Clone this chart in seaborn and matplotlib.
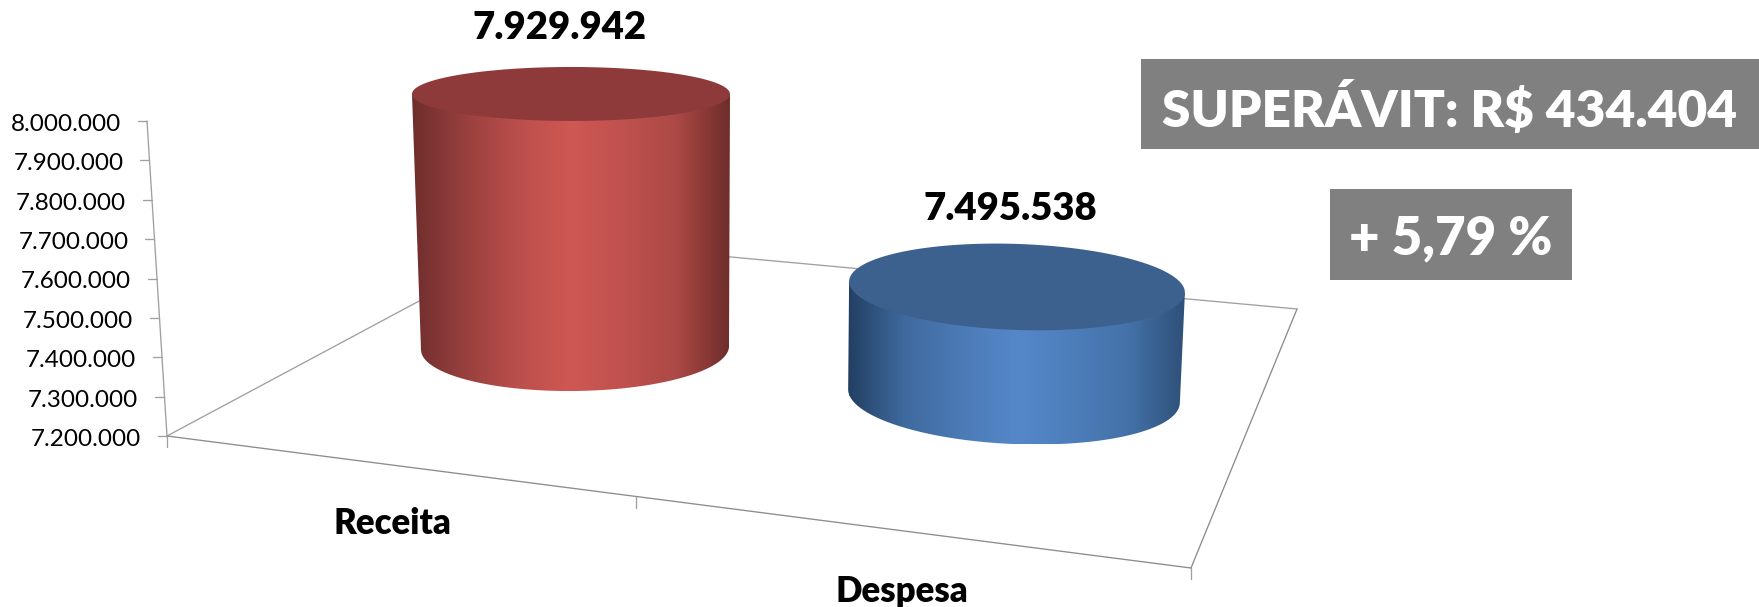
import matplotlib
matplotlib.use("Agg")
import matplotlib.pyplot as plt
import seaborn as sns
import numpy as np
from matplotlib.colors import LinearSegmentedColormap
from matplotlib.patches import Polygon, Rectangle

W, H = 1759, 607

categorias = ["Receita", "Despesa"]
valores = [7929942, 7495538]
cores_barra = ["#C0504D", "#4F81BD"]

eixo_valores = [8000000, 7900000, 7800000, 7700000, 7600000, 7500000, 7400000, 7300000, 7200000]
eixo_textos = ["8.000.000", "7.900.000", "7.800.000", "7.700.000", "7.600.000",
               "7.500.000", "7.400.000", "7.300.000", "7.200.000"]
texto_superavit = "SUPERÁVIT: R$ 434.404"
texto_percentual = "+ 5,79 %"

Y_MIN, Y_MAX = 7200000, 8000000

# layout in image pixels (y down)
EIXO_TOPO = (147, 121)
EIXO_BASE = (167, 436)
CANTO_FUNDO = (535, 239)
CANTO_DIR = (1297, 309)
CANTO_FRENTE = (1191, 568)
TICK_MEIO = (636, 497)

# per bar: base centre x, y, radii, tilt / top centre x, radii, tilt / px per real
BASES = [(575, 348, 154, 43, -0.7), (1014, 396, 166, 48, 2.5)]
TOPOS = [(571, 159, 27, 0.0), (1017, 168, 43, 2.0)]
ESCALAS = [348 / 1e6, 369 / 1e6]
CORES_TOPO = ["#8E3A3A", "#3D618F"]
GRADIENTES = [
    ["#6E2E2D", "#98403E", "#BB4F4C", "#CF5853", "#BF514E", "#AC4946", "#6E2D2B"],
    ["#233F63", "#3F6A9E", "#4B7AB5", "#5588CA", "#4D7EBB", "#4472A8", "#2F5079"],
]
CINZA = "#A0A0A0"

sns.set_theme(style="white")
plt.rcParams["font.family"] = ["Lato", "DejaVu Sans"]

fig = plt.figure(figsize=(W / 100, H / 100), dpi=100)
fig.patch.set_facecolor("white")

bg = fig.add_axes([0, 0, 1, 1], zorder=5)
bg.patch.set_visible(False)
bg.set_axis_off()
bg.set_xlim(0, W)
bg.set_ylim(H, 0)


def arco(cx, cy, a, b, tilt, t0, t1, n=120):
    t = np.linspace(t0, t1, n)
    th = np.radians(tilt)
    x, y = a * np.cos(t), b * np.sin(t)
    return np.column_stack([cx + x * np.cos(th) - y * np.sin(th),
                            cy + x * np.sin(th) + y * np.cos(th)])


# floor and value axis
for p0, p1, c in [(EIXO_BASE, EIXO_TOPO, CINZA), (EIXO_BASE, CANTO_FUNDO, CINZA),
                  (CANTO_FUNDO, CANTO_DIR, CINZA), (CANTO_DIR, CANTO_FRENTE, "#8C8C8C"),
                  (EIXO_BASE, CANTO_FRENTE, "#8C8C8C")]:
    bg.plot([p0[0], p1[0]], [p0[1], p1[1]], color=c, lw=0.95, zorder=1)

for p in [EIXO_BASE, TICK_MEIO, CANTO_FRENTE]:
    bg.plot([p[0], p[0]], [p[1], p[1] + 11], color=CINZA, lw=0.95, zorder=1)

for v, s in zip(eixo_valores, eixo_textos):
    f = (v - Y_MIN) / (Y_MAX - Y_MIN)
    x = EIXO_BASE[0] + f * (EIXO_TOPO[0] - EIXO_BASE[0])
    y = EIXO_BASE[1] + f * (EIXO_TOPO[1] - EIXO_BASE[1])
    bg.plot([x - 9, x], [y, y], color=CINZA, lw=0.95, zorder=1)
    bg.text(x - 26, y + 3.5, s, ha="right", va="center", fontsize=17.5, color="black")

# bars: seaborn sets the scale, the cylinder is built on the bar it draws
for i, (cat, val) in enumerate(zip(categorias, valores)):
    bx, by, ba, bb, bt = BASES[i]
    tx, ta, tb, tt = TOPOS[i]
    altura = ESCALAS[i] * (Y_MAX - Y_MIN)
    ax = fig.add_axes([(bx - ba) / W, (H - by) / H, 2 * ba / W, altura / H], zorder=2)
    sns.barplot(x=[cat], y=[val], color=cores_barra[i], width=1, saturation=1, ax=ax)
    ax.set_xlim(-0.5, 0.5)
    ax.set_ylim(Y_MIN, Y_MAX)
    ax.set_axis_off()

    barra = ax.patches[0]
    topo_disp = ax.transData.transform((0, barra.get_height()))
    ty = bg.transData.inverted().transform(topo_disp)[1]

    lado_esq = arco(tx, ty, ta, tb, tt, np.pi, np.pi, 1)
    lado_dir = arco(tx, ty, ta, tb, tt, 0, 0, 1)
    base_arco = arco(bx, by, ba, bb, bt, np.pi, 0)
    corpo = np.vstack([lado_esq, base_arco, lado_dir])
    clip = Polygon(corpo, closed=True, facecolor="none", edgecolor="none", transform=bg.transData)
    bg.add_patch(clip)

    cmap = LinearSegmentedColormap.from_list("cil", GRADIENTES[i])
    x0, x1 = corpo[:, 0].min(), corpo[:, 0].max()
    im = bg.imshow(np.linspace(0, 1, 256)[None, :], extent=(x0, x1, corpo[:, 1].max(), corpo[:, 1].min()),
                   aspect="auto", cmap=cmap, zorder=2, interpolation="bilinear")
    im.set_clip_path(clip)

    bg.add_patch(Polygon(arco(tx, ty, ta, tb, tt, 0, 2 * np.pi), closed=True,
                         facecolor=CORES_TOPO[i], edgecolor="none", zorder=3))

    rotulo = f"{val:,}".replace(",", ".")
    bg.text(tx - 11 if i == 0 else tx - 7, ty - (66 if i == 0 else 78), rotulo, ha="center", va="center",
            fontsize=27.5, fontweight=800, color="black", zorder=4)

bg.set_xlim(0, W)
bg.set_ylim(H, 0)

bg.text(392, 524, categorias[0], ha="center", va="center", fontsize=25, fontweight=800, color="black")
bg.text(902, 592, categorias[1], ha="center", va="center", fontsize=25, fontweight=800, color="black")

# summary boxes
bg.add_patch(Rectangle((1141, 59), W - 1141, 90, facecolor="#808080", edgecolor="none", zorder=1))
bg.text(1450, 108, texto_superavit, ha="center", va="center", fontsize=37, fontweight=800, color="white", zorder=2)
bg.add_patch(Rectangle((1330, 189), 242, 90.5, facecolor="#808080", edgecolor="none", zorder=1))
bg.text(1451, 239, texto_percentual, ha="center", va="center", fontsize=38, fontweight=800, color="white", zorder=2)

fig.savefig("out.png", dpi=100)
